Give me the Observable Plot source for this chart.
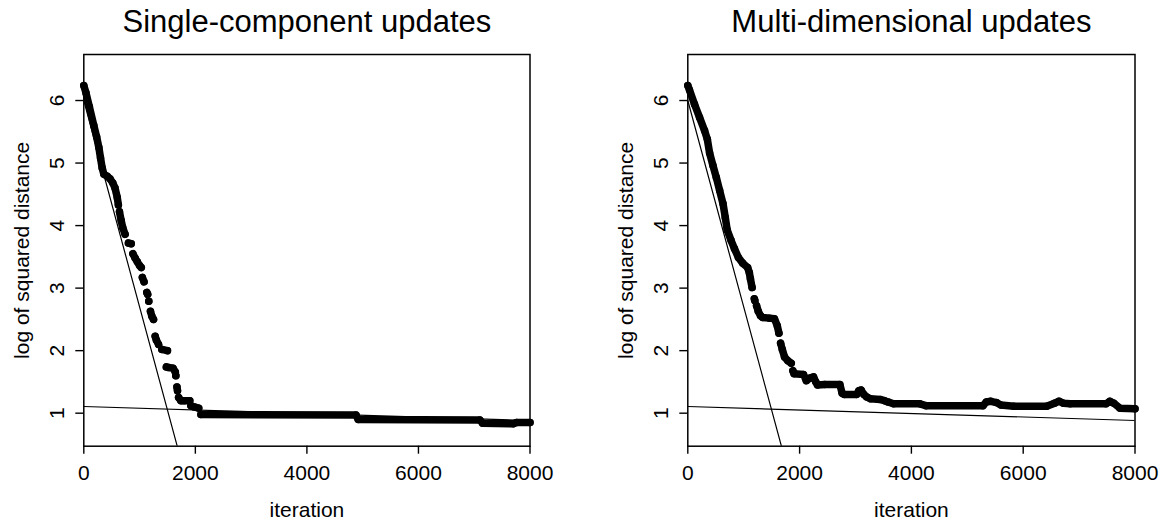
<!DOCTYPE html>
<html><head><meta charset="utf-8">
<script src="https://cdn.jsdelivr.net/npm/d3@7"></script>
<script src="https://cdn.jsdelivr.net/npm/@observablehq/plot@0.6"></script>
<style>
body{margin:0;background:#fff;}
#wrap{position:relative;width:1164px;height:525px;display:flex;}
#wrap svg{display:block;}
</style></head><body><div id="wrap"></div>
<script>
const xTicks = [0, 2000, 4000, 6000, 8000];
const yTicks = [1, 2, 3, 4, 5, 6];
const xDomain = [0, 8000];
const yDomain = [0.472, 6.736];
const titles = ["Single-component updates", "Multi-dimensional updates"];
const xLabel = "iteration";
const yLabel = "log of squared distance";

// straight reference lines: intercept and slope
const refIntercepts = [6.0, 1.107];
const refSlopes = [-0.0033, -0.000028];

// Panel 1: single-component updates (continuous pieces of the dotted trace)
const singleIter = [
  [0, 40, 100, 180, 230, 270, 300, 330, 360, 420, 470, 520, 560, 600, 620],
  [640, 670, 700, 740],
  [800, 850],
  [880, 920, 960, 1000, 1030],
  [1050, 1080],
  [1130, 1145],
  [1165],
  [1195, 1220, 1250],
  [1280, 1300, 1340],
  [1400, 1500],
  [1480, 1520, 1600, 1640],
  [1650],
  [1670, 1680],
  [1700, 1740, 1800, 1900],
  [1920, 1980, 2060],
  [2100, 4880, 4920, 7100, 7150, 7700, 7760, 8000]
];
const singleValue = [
  [6.24, 6.12, 5.9, 5.6, 5.42, 5.25, 5.08, 4.92, 4.82, 4.79, 4.75, 4.68, 4.6, 4.45, 4.33],
  [4.22, 4.08, 3.96, 3.86],
  [3.72, 3.71],
  [3.55, 3.48, 3.42, 3.36, 3.33],
  [3.17, 3.1],
  [2.93, 2.9],
  [2.79],
  [2.63, 2.55, 2.5],
  [2.23, 2.17, 2.1],
  [2.02, 2.0],
  [1.74, 1.73, 1.72, 1.66],
  [1.6],
  [1.42, 1.36],
  [1.25, 1.2, 1.2, 1.2],
  [1.12, 1.1, 1.08],
  [0.98, 0.97, 0.9, 0.89, 0.84, 0.83, 0.85, 0.85]
];

// Panel 2: multi-dimensional updates
const multiIter = [
  [0, 30, 120, 210, 300, 350, 390, 450, 510, 570, 630, 670, 705, 775, 835, 905, 980, 1070, 1100, 1120, 1150],
  [1190, 1200],
  [1230, 1260, 1300, 1340, 1460, 1550, 1600, 1630],
  [1660, 1690, 1730, 1790, 1850],
  [1880, 1900, 2070, 2120, 2180, 2250, 2290, 2320, 2450, 2720, 2760, 2800, 3020, 3060, 3100, 3150, 3200, 3270, 3440, 3520, 3580, 3680, 4150, 4260, 5280, 5340, 5420, 5520, 5600, 5830, 6420, 6560, 6640, 6720, 6840, 7480, 7550, 7620, 7730, 8000]
];
const multiValue = [
  [6.24, 6.17, 5.94, 5.73, 5.52, 5.38, 5.16, 4.96, 4.77, 4.56, 4.35, 4.13, 3.93, 3.76, 3.63, 3.49, 3.4, 3.33, 3.25, 3.15, 3.01],
  [2.83, 2.8],
  [2.72, 2.63, 2.56, 2.53, 2.52, 2.51, 2.4, 2.28],
  [2.12, 2.02, 1.9, 1.84, 1.8],
  [1.68, 1.63, 1.62, 1.52, 1.56, 1.58, 1.5, 1.45, 1.46, 1.46, 1.32, 1.3, 1.3, 1.36, 1.37, 1.3, 1.26, 1.23, 1.22, 1.2, 1.18, 1.15, 1.15, 1.12, 1.12, 1.18, 1.19, 1.17, 1.13, 1.11, 1.11, 1.16, 1.19, 1.16, 1.15, 1.15, 1.19, 1.16, 1.08, 1.07]
];

function toRows(iters, vals) {
  const rows = [];
  iters.forEach((piece, p) => piece.forEach((x, i) => rows.push({x, y: vals[p][i], piece: p})));
  return rows;
}
const refRows = refIntercepts.flatMap((b, k) => xDomain.map(x => ({x, y: b + refSlopes[k] * x, k})));

function panel(title, rows, marginLeft, marginRight) {
  return Plot.plot({
    width: 582,
    height: 525,
    marginLeft, marginRight,
    marginTop: 54,
    marginBottom: 79.3,
    x: {domain: xDomain},
    y: {domain: yDomain},
    style: {fontFamily: "'Liberation Sans', Arial, sans-serif", fontSize: "21px", background: "white", color: "black", overflow: "visible"},
    marks: [
      Plot.line(refRows, {x: "x", y: "y", z: "k", stroke: "black", strokeWidth: 1.2, clip: true}),
      Plot.line(rows, {x: "x", y: "y", z: "piece", stroke: "black", strokeWidth: 7.5, strokeLinecap: "round", strokeLinejoin: "round"}),
      Plot.dot(rows, {x: "x", y: "y", r: 3.75, fill: "black"}),
      Plot.frame({stroke: "black", strokeWidth: 1.5}),
      Plot.axisX({ticks: xTicks, tickSize: 8, tickPadding: 10.4, tickFormat: d => String(d), label: null, strokeWidth: 1.4, fontSize: 21}),
      Plot.axisY({ticks: yTicks, tickSize: 8, tickFormat: () => "", label: null, strokeWidth: 1.4}),
      Plot.text(yTicks, {y: d => d, text: d => String(d), frameAnchor: "left", dx: -27, rotate: -90, lineAnchor: "middle", textAnchor: "middle", fontSize: 21}),
      Plot.text([yLabel], {text: d => d, frameAnchor: "left", dx: -61.7, rotate: -90, lineAnchor: "middle", textAnchor: "middle", fontSize: 21}),
      Plot.text([xLabel], {text: d => d, frameAnchor: "bottom", dy: 64.3, lineAnchor: "middle", fontSize: 21}),
      Plot.text([title], {text: d => d, frameAnchor: "top", dy: -32.4, lineAnchor: "middle", fontSize: 31})
    ]
  });
}

const wrap = document.getElementById("wrap");
wrap.append(panel(titles[0], toRows(singleIter, singleValue), 83.3, 52.5));
wrap.append(panel(titles[1], toRows(multiIter, multiValue), 105.3, 29.5));
</script>
</body></html>
